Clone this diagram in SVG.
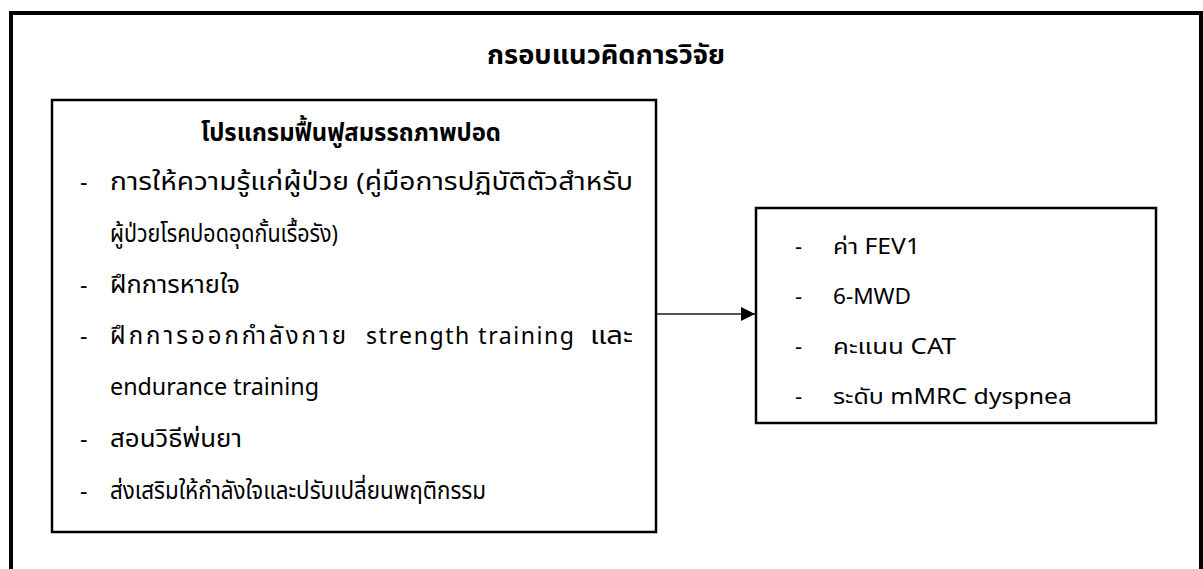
<svg xmlns="http://www.w3.org/2000/svg" width="1203" height="569" viewBox="0 0 1203 569">
  <style>
    .frame { fill: none; stroke: #000; }
    .t { font-family: "Noto Sans", "Noto Sans Thai", "Noto Sans Thai UI", "DejaVu Sans", sans-serif; fill: #000; }
    .title { font-size: 26px; font-weight: bold; }
    .sub { font-size: 25px; font-weight: bold; }
    .item { font-size: 24px; }
    .lat { font-size: 23px; }
    .ritem { font-size: 22px; }
    .conn { stroke: #1a1a1a; stroke-width: 1.6; fill: none; }
  </style>
  <defs>
    <marker id="arrow" markerWidth="14" markerHeight="14" refX="14" refY="7" orient="auto" markerUnits="userSpaceOnUse">
      <polygon points="0,0 14,7 0,14" fill="#000"/>
    </marker>
  </defs>
  <rect x="0" y="0" width="1203" height="569" fill="#fff"/>

  <g id="outer-frame">
    <rect class="frame" x="11" y="13" width="1190" height="620" stroke-width="4"/>
    <text class="t title" x="606" y="64" text-anchor="middle" textLength="238" lengthAdjust="spacingAndGlyphs">กรอบแนวคิดการวิจัย</text>
  </g>

  <g id="program-node">
    <rect class="frame" x="52" y="100" width="604" height="432" stroke-width="2.5"/>
    <text class="t sub" x="351" y="141" text-anchor="middle" textLength="300" lengthAdjust="spacingAndGlyphs">โปรแกรมฟื้นฟูสมรรถภาพปอด</text>
    <text class="t lat" x="80" y="190">-</text>
    <text class="t item" x="110" y="190" textLength="523" lengthAdjust="spacingAndGlyphs">การให้ความรู้แก่ผู้ป่วย (คู่มือการปฏิบัติตัวสำหรับ</text>
    <text class="t item" x="110" y="242" textLength="228" lengthAdjust="spacingAndGlyphs">ผู้ป่วยโรคปอดอุดกั้นเรื้อรัง)</text>
    <text class="t lat" x="80" y="293">-</text>
    <text class="t item" x="110" y="293" textLength="130" lengthAdjust="spacingAndGlyphs">ฝึกการหายใจ</text>
    <text class="t lat" x="80" y="344">-</text>
    <text class="t item" x="110" y="344" textLength="236" lengthAdjust="spacing">ฝึกการออกกำลังกาย</text>
    <text class="t lat" x="366" y="344" textLength="208" lengthAdjust="spacing">strength training</text>
    <text class="t item" x="590" y="344" textLength="43" lengthAdjust="spacingAndGlyphs">และ</text>
    <text class="t lat" x="110" y="395" textLength="209" lengthAdjust="spacingAndGlyphs">endurance training</text>
    <text class="t lat" x="80" y="447">-</text>
    <text class="t item" x="110" y="447" textLength="132" lengthAdjust="spacingAndGlyphs">สอนวิธีพ่นยา</text>
    <text class="t lat" x="80" y="499">-</text>
    <text class="t item" x="110" y="499" textLength="376" lengthAdjust="spacingAndGlyphs">ส่งเสริมให้กำลังใจและปรับเปลี่ยนพฤติกรรม</text>
  </g>

  <g id="outcome-node">
    <rect class="frame" x="756" y="208" width="400" height="215" stroke-width="2.5"/>
    <text class="t ritem" x="795" y="254">-</text>
    <text class="t ritem" x="833" y="254" textLength="87" lengthAdjust="spacingAndGlyphs">ค่า FEV1</text>
    <text class="t ritem" x="795" y="304">-</text>
    <text class="t ritem" x="833" y="304" textLength="78" lengthAdjust="spacingAndGlyphs">6-MWD</text>
    <text class="t ritem" x="795" y="354">-</text>
    <text class="t ritem" x="833" y="354" textLength="123" lengthAdjust="spacingAndGlyphs">คะแนน CAT</text>
    <text class="t ritem" x="795" y="404">-</text>
    <text class="t ritem" x="833" y="404" textLength="239" lengthAdjust="spacingAndGlyphs">ระดับ mMRC dyspnea</text>
  </g>

  <g id="connectors">
    <line class="conn" x1="657" y1="314" x2="755" y2="314" marker-end="url(#arrow)"/>
  </g>
</svg>
